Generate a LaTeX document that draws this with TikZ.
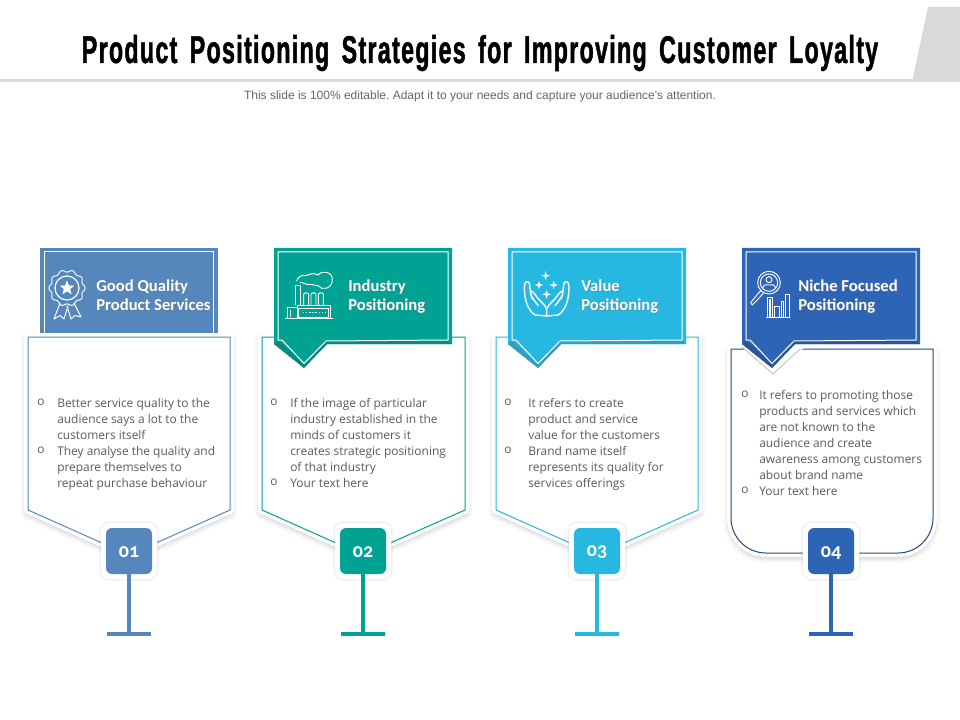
\documentclass[tikz,border=0pt]{standalone}
\usepackage{fontspec}
\setmainfont{Open Sans}
\newfontfamily\titlefont[FakeStretch=0.6,WordSpace=1.6,LetterSpace=3.4,FakeBold=1.2]{Liberation Sans Bold}
\newfontfamily\subfont{Liberation Sans}
\newfontfamily\headfont[Numbers=OldStyle]{Carlito Bold}
\definecolor{cA}{HTML}{5587BD}\definecolor{dA}{HTML}{4A78A8}
\definecolor{cB}{HTML}{00A294}\definecolor{dB}{HTML}{0E877D}
\definecolor{cC}{HTML}{26B8E0}\definecolor{dC}{HTML}{2F9FC0}
\definecolor{cD}{HTML}{2E64B6}\definecolor{dD}{HTML}{2A5596}
\definecolor{lineD}{HTML}{1F4A80}
\definecolor{bodygrey}{HTML}{5A5A5A}
\definecolor{rulegrey}{HTML}{D9D9D9}
\tikzset{
  softshadow/.style={
    preaction={draw=black,opacity=.03,line width=10.5pt,transform canvas={yshift=-2pt},line join=round},
    preaction={draw=black,opacity=.05,line width=7pt,transform canvas={yshift=-2pt},line join=round},
    preaction={draw=black,opacity=.07,line width=3.5pt,transform canvas={yshift=-2pt},line join=round},
    preaction={draw=white,line width=6pt,line join=round}},
  panel/.style={fill=white,line width=.75pt,softshadow},
  innerline/.style={draw=white,line width=.75pt,line join=miter},
  headtext/.style={font=\headfont\fontsize{12.5pt}{14.2pt}\selectfont,text=white,align=left,anchor=west,inner sep=0pt},
  headshade/.style={font=\headfont\fontsize{12.5pt}{14.2pt}\selectfont,text=black!55,align=left,anchor=west,inner sep=0pt,opacity=.55},
  bodytext/.style={font=\fontsize{8.95pt}{12pt}\selectfont,text=bodygrey,align=left,anchor=north west,inner sep=0pt},
  halo/.style={rectangle,rounded corners=6pt,minimum size=42pt,inner sep=0pt,fill=white,draw=white,line width=.1pt,
    preaction={draw=black,opacity=.03,line width=3pt},preaction={draw=black,opacity=.03,line width=1.5pt}},
  badge/.style={rectangle,rounded corners=4.5pt,minimum size=34.5pt,inner sep=0pt,text=white,font=\headfont\fontsize{15pt}{15pt}\selectfont},
  stem/.style={line width=2.4pt},
  icon/.style={draw=white,line width=.72pt,line join=round,line cap=round},
}
\newcommand{\Foot}[4]{% id, x, colour, number
  \node[halo] (halo#1) at (#2,551) {};
  \node[badge,fill=#3] (badge#1) at (#2,551) {\raisebox{-1.2pt}[\height][\depth]{#4}};
  \coordinate (foot#1) at (#2,634);
  \coordinate (footL#1) at ({#2-22},634);
  \coordinate (footR#1) at ({#2+22},634);
  \draw[stem,draw=#3] (badge#1.south) -- (foot#1);
  \draw[stem,draw=#3] (footL#1) -- (footR#1);
}
\newcommand{\Flag}[3]{% left x, fill, dark
  \fill[#2] (#1,248) -- ({#1+178},248) -- ({#1+178},344) -- ({#1+53},344) -- ({#1+30},368) -- (#1,344) -- cycle;
  \fill[#3] (#1,344) -- ({#1+4},340.5) -- ({#1+30},364) -- ({#1+52},341) -- ({#1+174},340.5) -- ({#1+178},344) -- ({#1+53},344) -- ({#1+30},368) -- cycle;
  \draw[innerline] ({#1+4},252) -- ({#1+174},252) -- ({#1+174},340) -- ({#1+52},341) -- ({#1+30},363.5) -- ({#1+8},340) -- ({#1+4},340) -- cycle;
}
\newcommand{\HeadText}[4]{% name,x,line1,line2
  \node[headshade] at ({#2+.8},{297.5+.9}) {\strut#3\\\strut#4};
  \node[headtext] (#1) at (#2,297.5) {\strut#3\\\strut#4};
}
\begin{document}
\frenchspacing
\begin{tikzpicture}[x=0.75pt,y=-0.75pt]
\useasboundingbox (0,0) rectangle (960,720);
\fill[white] (0,0) rectangle (960,720);

% top band
\fill[rulegrey] (0,79) rectangle (960,82);
\fill[rulegrey] (928,7) -- (960,7) -- (960,82) -- (912,82) -- cycle;
\node[font=\titlefont\fontsize{29pt}{32pt}\selectfont,text=black,inner sep=0pt,anchor=base] (title) at (480,63) {Product Positioning Strategies for Improving Customer Loyalty};
\node[font=\subfont\fontsize{9pt}{11pt}\selectfont,text=black!60,inner sep=0pt] (subtitle) at (480,96.5) {This slide is 100\% editable. Adapt it to your needs and capture your audience's attention.};

% column 1
\fill[cA] (40,248) rectangle (218,336);
\draw[innerline] (44,336) -- (44,252) -- (213,252) -- (213,336);
\draw[panel,draw=cA] (28,337) -- (230,337) -- (230,510) -- (129,555) -- (28,510) -- cycle;
\HeadText{hA}{96}{Good Quality}{Product Services}
\node[bodytext] (bA) at (37,398.5) {o\\[24pt]o};
\node[bodytext] (tA) at (57,398.5) {Better service quality to the\\audience says a lot to the\\customers itself\\They analyse the quality and\\prepare themselves to\\repeat purchase behaviour};
\Foot{A}{129}{cA}{01}

% column 2
\draw[panel,draw=cB] (262,337) -- (465,337) -- (465,510) -- (363,555) -- (262,510) -- cycle;
\Flag{274}{cB}{dB}
\HeadText{hB}{348}{Industry}{Positioning}
\node[bodytext] (bB) at (270,398.5) {o\\[48pt]o};
\node[bodytext] (tB) at (290,398.5) {If the image of particular\\industry established in the\\minds of customers it\\creates strategic positioning\\of that industry\\Your text here};
\Foot{B}{363}{cB}{02}

% column 3
\draw[panel,draw=cC] (496,337) -- (698,337) -- (698,510) -- (597,555) -- (496,510) -- cycle;
\Flag{508}{cC}{dC}
\HeadText{hC}{581}{Value}{Positioning}
\node[bodytext] (bC) at (504,398.5) {o\\[24pt]o};
\node[bodytext] (tC) at (528,398.5) {It refers to create\\product and service\\value for the customers\\Brand name itself\\represents its quality for\\services offerings};
\Foot{C}{597}{cC}{03}

% column 4
\draw[panel,draw=lineD] (731,349) -- (933,349) -- (933,518) arc[start angle=0,end angle=90,radius=35] -- (766,553) arc[start angle=90,end angle=180,radius=35] -- cycle;
\fill[white] (738,344) -- (773,375) -- (808,344) -- cycle;
\draw[black!30,line width=.5pt] (742,347) -- (773,374) -- (800,349);
\Flag{742}{cD}{dD}
\HeadText{hD}{798}{Niche Focused}{Positioning}
\node[bodytext] (bD) at (741,390.5) {o\\[60pt]o};
\node[bodytext] (tD) at (759,390.5) {It refers to promoting those\\products and services which\\are not known to the\\audience and create\\awareness among customers\\about brand name\\Your text here};
\Foot{D}{831}{cD}{04}

% icon 1: rosette
\draw[icon] plot[domain=0:360,samples=121,smooth] ({67+(17+1.1*cos(10*\x))*cos(\x)},{288+(17+1.1*cos(10*\x))*sin(\x)}) -- cycle;
\draw[icon,line width=.9pt] (67,288) circle (12);
\draw[icon,fill=white] (67,281.5) -- (68.6,286) -- (73.2,286) -- (69.5,289) -- (71,293.5) -- (67,290.8) -- (63,293.5) -- (64.5,289) -- (60.8,286) -- (65.4,286) -- cycle;
\draw[icon] (60,303) -- (54,319) -- (60,315.5) -- (64,319) -- (68,306);
\draw[icon] (74,303) -- (81,317) -- (75,315.5) -- (71,319) -- (67,306);

% icon 2: factory (drawn in zoomed coordinates)
\begin{scope}[shift={(250,235)},x=0.25pt,y=-0.25pt]
  \draw[icon] (107,250) -- (248,250);
  \draw[icon] (141,210) rectangle (241,250);
  \draw[icon] (146,219) rectangle (236,248);
  \draw[icon] (113,250) -- (113,218) -- (141,218);
  \draw[icon] (120,226) -- (120,244);
  \draw[icon] (136,210) -- (136,150) -- (152,150) -- (152,210);
  \draw[icon] (161,210) -- (161,178) to[out=90,in=90] (176,178) -- (176,210);
  \draw[icon] (183,210) -- (183,178) to[out=90,in=90] (198,178) -- (198,210);
  \draw[icon] (205,210) -- (205,178) to[out=90,in=90] (220,178) -- (220,210);
  \draw[icon,dash pattern=on 1.2pt off 1.2pt,line cap=butt,line width=1pt] (158,232) -- (226,232);
  \draw[icon] (140,138) .. controls (145,122) and (158,120) .. (168,122) .. controls (178,116) and (194,114) .. (204,120) .. controls (215,106) and (248,108) .. (247,135) .. controls (246,162) and (215,168) .. (204,152) .. controls (192,152) and (184,146) .. (178,148) .. controls (168,150) and (158,142) .. (150,142);
\end{scope}

% icon 3: hands
\begin{scope}[shift={(485,235)},x=0.25pt,y=-0.25pt]
  \foreach \cx/\cy/\r in {182/122/14,162/150/13,206/150/13,185/178/14}{
    \fill[white] (\cx,\cy-\r) -- (\cx+3,\cy-3) -- (\cx+\r,\cy) -- (\cx+3,\cy+3) -- (\cx,\cy+\r) -- (\cx-3,\cy+3) -- (\cx-\r,\cy) -- (\cx-3,\cy-3) -- cycle;
  }
  \draw[icon,line width=1.05pt] (185,243) -- (185,222) .. controls (178,205) and (165,200) .. (155,185) .. controls (148,175) and (140,165) .. (136,170) .. controls (134,180) and (150,200) .. (160,212)
     (150,240) -- (185,243) (150,240) .. controls (128,225) and (118,195) .. (118,155) .. controls (118,140) and (128,135) .. (133,145) .. controls (136,160) and (136,180) .. (142,192);
  \draw[icon,line width=1.05pt] (185,222) .. controls (192,205) and (205,200) .. (215,185) .. controls (222,175) and (230,165) .. (234,170) .. controls (236,180) and (220,200) .. (210,212)
     (220,240) -- (185,243) (220,240) .. controls (242,225) and (252,195) .. (252,155) .. controls (252,140) and (242,135) .. (237,145) .. controls (234,160) and (234,180) .. (228,192);
\end{scope}

% icon 4: magnifier with bars
\begin{scope}[shift={(720,235)},x=0.25pt,y=-0.25pt]
  \draw[icon] (147,143) circle (34);
  \draw[icon] (147,143) circle (26);
  \draw[icon] (147,134) circle (9);
  \draw[icon] (128,160) .. controls (130,148) and (140,148) .. (147,150) .. controls (155,148) and (165,148) .. (167,160);
  \draw[icon] (123,167) -- (113,177) -- (92,203) -- (97,210) -- (120,186) -- (130,174);
  \draw[icon] (140,248) -- (210,248);
  \draw[icon] (143,248) -- (143,186) -- (158,186) -- (158,248);
  \draw[icon] (149,248) -- (149,192) -- (152,192) -- (152,248);
  \draw[icon] (164,248) -- (164,214) -- (178,214) -- (178,248);
  \draw[icon] (184,248) -- (184,198) -- (191,198) -- (191,248);
  \draw[icon] (197,248) -- (197,178) -- (208,178) -- (208,248);
\end{scope}
\end{tikzpicture}
\end{document}
